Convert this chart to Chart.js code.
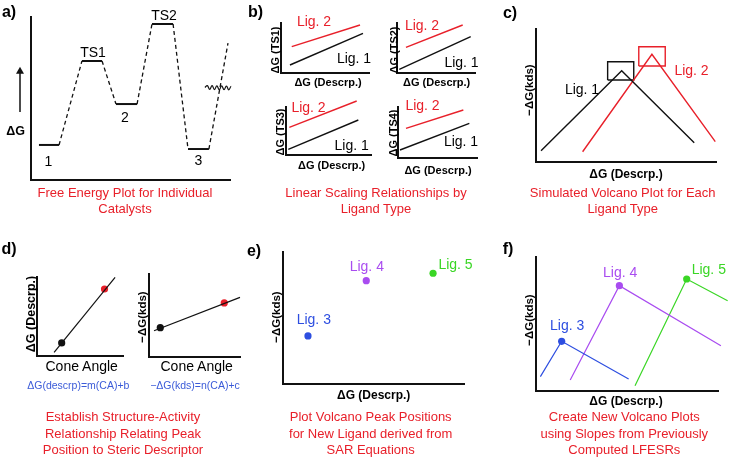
<!DOCTYPE html>
<html>
<head>
<meta charset="utf-8">
<script src="https://cdn.jsdelivr.net/npm/chart.js@4.4.1/dist/chart.umd.min.js"></script>
<style>
body { margin: 0; background: #fff; width: 729px; height: 459px; position: relative; overflow: hidden;
       font-family: "Liberation Sans", Arial, sans-serif; }
canvas { position: absolute; }
.t { position: absolute; white-space: nowrap; line-height: 1; transform: translate(-50%, -50%); }
.v { transform: translate(-50%, -50%) rotate(-90deg); }
.cap { position: absolute; white-space: nowrap; color: #e8202a; font-size: 13px; line-height: 16.5px;
       text-align: center; transform: translateX(-50%); }
</style>
</head>
<body>
<script>
// colours
const RED = '#e8202a', BLUE = '#2d4ee0', PURPLE = '#a94cf0', GREEN = '#3ad625', EQ = '#3b5bd8';

// a) free energy profile (1 -> TS1 -> 2 -> TS2 -> 3 -> ...)
const profX = [4, 14.1, 25.6, 35.7, 42.7, 53.3, 60.8, 71.4, 78.9, 89.4, 99];
const profY = [21.5, 21.5, 73, 73, 46.6, 46.6, 95.7, 95.7, 19, 19, 84];
const waveX = [87.4, 88.6, 89.8, 91, 92.2, 93.4, 94.6, 95.8, 97, 98.2, 99.4, 100.6, 101.8];
const waveY = [56.8, 57.9, 55.6, 57.9, 55.5, 57.8, 55.4, 57.7, 55.4, 57.6, 55.3, 57.5, 55.7];
const arrowY = [41.7, 66.6];   // the ΔG arrow, same y units as the profile

// b) linear scaling, one small plot per transition state
const tsNames = ['TS1', 'TS2', 'TS3', 'TS4'];
const tsLig1X = [[10.2, 93.2], [2.9, 94.5], [2.7, 85.1], [2.5, 90.3]];
const tsLig1Y = [[16, 79.4], [7.4, 72.6], [11.9, 72.9], [15.7, 68]];
const tsLig2X = [[12.2, 89.8], [11.5, 84.2], [3.9, 83.2], [10.1, 82.7]];
const tsLig2Y = [[52.6, 96], [51.4, 96], [57.7, 112.5], [58.2, 94.1]];

// c) simulated volcano plots
const volc1X = [2.8, 47.6, 87.9], volc1Y = [8.5, 68.6, 14.5];
const volc2X = [25.9, 64.4, 99.6], volc2Y = [7.7, 81, 15.3];
const box1X = [39.8, 54.3], box1Y = [61.7, 75.4];
const box2X = [57.1, 71.8], box2Y = [72.2, 86.7];

// d) structure-activity relationships vs cone angle
const coneL = [28.7, 78.5], descrY = [16.5, 84.8];
const fitLX = [19.9, 90.8], fitLY = [4.7, 99.6];
const coneR = [12.4, 82.7], kdsY = [35.3, 65.1];
const fitRX = [5.5, 100], fitRY = [31.7, 71.9];

// e) predicted volcano peaks for new ligands
const newLigs = ['Lig. 3', 'Lig. 4', 'Lig. 5'];
const newColors = [BLUE, PURPLE, GREEN];
const peakX = [13.8, 46, 82.9], peakY = [36.4, 78.3, 83.9];

// f) new volcano plots
const fX = [[2.4, 14.1, 50.9], [18.8, 45.8, 101.6], [54.4, 82.8, 105.3]];
const fY = [[10.7, 37.1, 9], [8.2, 78.6, 33.8], [4, 83.6, 67.4]];

const pts = (xs, ys) => xs.map((x, i) => ({ x: x, y: ys[i] }));
const rect = (xs, ys) => pts([xs[0], xs[1], xs[1], xs[0], xs[0]], [ys[0], ys[0], ys[1], ys[1], ys[0]]);

function line(xs, ys, color, w) {
  return { data: pts(xs, ys), showLine: true, borderColor: color, borderWidth: w || 1.4,
           pointRadius: 0, clip: false, tension: 0 };
}
function dots(xs, ys, colors) {
  return { data: pts(xs, ys), showLine: false, pointRadius: 3.6, pointBackgroundColor: colors,
           pointBorderWidth: 0, clip: false };
}

const M = 14;
// box = axes rectangle on the page
function plot(box, datasets, noAxes) {
  const c = document.createElement('canvas');
  c.width = box[2] - box[0] + 2 * M;
  c.height = box[3] - box[1] + 2 * M;
  c.style.left = (box[0] - M) + 'px';
  c.style.top = (box[1] - M) + 'px';
  document.body.appendChild(c);
  const ax = { type: 'linear', min: 0, max: 100, grid: { display: false, drawTicks: false },
               ticks: { display: false }, border: { display: !noAxes, color: '#111', width: 2 } };
  return new Chart(c, {
    type: 'scatter',
    data: { datasets: datasets },
    options: {
      responsive: false, animation: false, devicePixelRatio: 1, events: [],
      layout: { padding: M, autoPadding: false },
      plugins: { legend: { display: false }, tooltip: { enabled: false } },
      scales: { x: ax, y: Object.assign({}, ax) }
    }
  });
}

function label(text, x, y, size, opts) {
  opts = opts || {};
  const d = document.createElement('div');
  d.className = 't' + (opts.v ? ' v' : '');
  d.textContent = text;
  d.style.left = x + 'px';
  d.style.top = y + 'px';
  d.style.fontSize = size + 'px';
  d.style.color = opts.color || '#000';
  if (opts.bold) d.style.fontWeight = 'bold';
  document.body.appendChild(d);
}
function caption(lines, x, y) {
  const d = document.createElement('div');
  d.className = 'cap';
  d.innerHTML = lines.join('<br>');
  d.style.left = x + 'px';
  d.style.top = y + 'px';
  document.body.appendChild(d);
}

// ---- a)
const prof = line(profX, profY, '#111', 1.3);
prof.segment = {
  borderDash: ctx => ctx.p0.parsed.y !== ctx.p1.parsed.y ? [4, 3] : undefined,
  borderWidth: ctx => ctx.p0.parsed.y === ctx.p1.parsed.y ? 2 : 1.3
};
const wave = line(waveX, waveY, '#111', 1.2);
wave.tension = 0.45;
plot([31, 17, 230, 180], [prof, wave]);

// arrow next to ΔG: its own small plot without axes, sharing the y range
const arrow = line([50, 50], arrowY, '#111', 1.5);
arrow.pointRadius = [0, 4.6];
arrow.pointStyle = 'triangle';
arrow.pointBackgroundColor = '#111';
arrow.pointBorderWidth = 0;
plot([15, 17, 25, 180], [arrow], true);

label('a)', 9, 12, 16, { bold: true });
label('TS1', 93, 52, 14);
label('TS2', 164, 15, 14);
label('1', 48.5, 160.5, 14);
label('2', 125, 117, 14);
label('3', 198.5, 160, 14);
label('\u0394G', 15.5, 131, 12.5, { bold: true });
caption(['Free Energy Plot for Individual', 'Catalysts'], 125, 184.5);

// ---- b)
const bBoxes = [[281, 23, 369, 73], [397, 23, 475, 73], [286, 107, 371, 155], [398, 107, 477, 158]];
const bYLab = [[275, 50], [393.5, 50], [280, 131.5], [393.3, 133]];
const bXLab = [[328, 82], [436.7, 82], [331.7, 165], [438, 170]];
const bLig2 = [[314, 21], [422, 25], [308.5, 106.5], [422.5, 105]];
const bLig1 = [[354, 58], [461.5, 61.5], [351.7, 145], [461, 141]];
tsNames.forEach((ts, i) => {
  plot(bBoxes[i], [line(tsLig2X[i], tsLig2Y[i], RED), line(tsLig1X[i], tsLig1Y[i], '#111')]);
  label('\u0394G (' + ts + ')', bYLab[i][0], bYLab[i][1], 11, { bold: true, v: true });
  label('\u0394G (Descrp.)', bXLab[i][0], bXLab[i][1], 11, { bold: true });
  label('Lig. 2', bLig2[i][0], bLig2[i][1], 14, { color: RED });
  label('Lig. 1', bLig1[i][0], bLig1[i][1], 14);
});
label('b)', 255.5, 12, 16, { bold: true });
caption(['Linear Scaling Relationships by', 'Ligand Type'], 376, 184.5);

// ---- c)
plot([536, 29, 716, 162], [
  line(volc1X, volc1Y, '#111'), line(volc2X, volc2Y, RED),
  Object.assign(line([], [], '#111'), { data: rect(box1X, box1Y) }),
  Object.assign(line([], [], RED), { data: rect(box2X, box2Y) })
]);
label('c)', 510, 13, 16, { bold: true });
label('Lig. 1', 582, 88.5, 14);
label('Lig. 2', 691.5, 69.5, 14, { color: RED });
label('\u2212\u0394G(kds)', 529.5, 90, 11.5, { bold: true, v: true });
label('\u0394G (Descrp.)', 626, 174, 12, { bold: true });
caption(['Simulated Volcano Plot for Each', 'Ligand Type'], 622.7, 184.5);

// ---- d)
plot([37, 277, 123, 356], [line(fitLX, fitLY, '#111', 1.2), dots(coneL, descrY, ['#111', RED])]);
plot([149, 274, 240, 357], [line(fitRX, fitRY, '#111', 1.2), dots(coneR, kdsY, ['#111', RED])]);
label('d)', 9, 249, 16, { bold: true });
label('\u0394G (Descrp.)', 31, 314, 12.5, { bold: true, v: true });
label('\u2212\u0394G(kds)', 143, 317, 11.5, { bold: true, v: true });
label('Cone Angle', 81.7, 366, 14);
label('Cone Angle', 196.7, 366, 14);
label('\u0394G(descrp)=m(CA)+b', 78.3, 385, 10.5, { color: EQ });
label('\u2212\u0394G(kds)=n(CA)+c', 195, 385, 10.5, { color: EQ });
caption(['Establish Structure-Activity', 'Relationship Relating Peak', 'Position to Steric Descriptor'], 123, 409);

// ---- e)
plot([283, 252, 464, 384], [dots(peakX, peakY, newColors)]);
label('e)', 254, 251, 16, { bold: true });
const eLab = [[313.8, 319], [366.8, 266.3], [455.5, 263.5]];
newLigs.forEach((n, i) => label(n, eLab[i][0], eLab[i][1], 14, { color: newColors[i] }));
label('\u2212\u0394G(kds)', 276.5, 317, 11.5, { bold: true, v: true });
label('\u0394G (Descrp.)', 373.7, 394.7, 12, { bold: true });
caption(['Plot Volcano Peak Positions', 'for New Ligand derived from', 'SAR Equations'], 370.7, 409);

// ---- f)
plot([536, 257, 718, 391], newColors.map((c, i) => line(fX[i], fY[i], c, 1.2)).concat([
  dots(fX.map(a => a[1]), fY.map(a => a[1]), newColors)
]));
label('f)', 508, 249, 16, { bold: true });
const fLab = [[567.2, 325], [620.2, 271.7], [708.8, 269]];
newLigs.forEach((n, i) => label(n, fLab[i][0], fLab[i][1], 14, { color: newColors[i] }));
label('\u2212\u0394G(kds)', 529.5, 319.5, 11.5, { bold: true, v: true });
label('\u0394G (Descrp.)', 626, 401.3, 12, { bold: true });
caption(['Create New Volcano Plots', 'using Slopes from Previously', 'Computed LFESRs'], 624.3, 409);
</script>
</body>
</html>
